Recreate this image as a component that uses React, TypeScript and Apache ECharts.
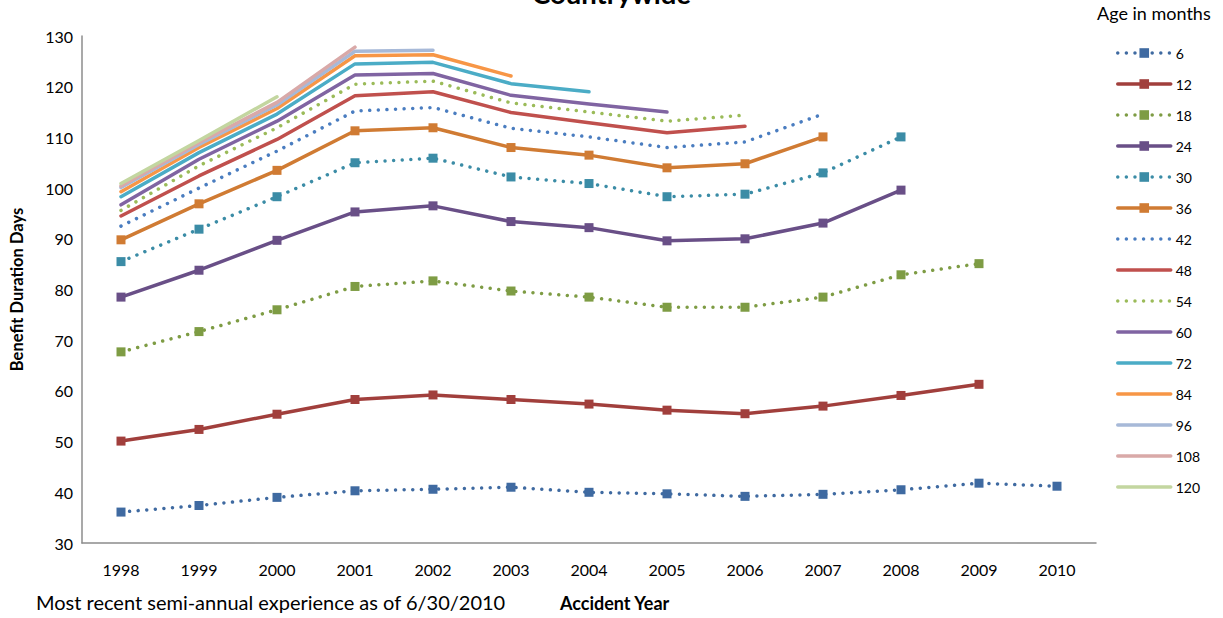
import React, { useEffect, useRef } from "react";
import * as echarts from "echarts";

// Accident years on the category axis
const years = ["1998", "1999", "2000", "2001", "2002", "2003", "2004", "2005", "2006", "2007", "2008", "2009", "2010"];

// Benefit duration days by age in months (each series ends at its latest evaluated year)
const age6 = [36.1, 37.4, 39.0, 40.3, 40.6, 41.0, 40.0, 39.7, 39.2, 39.6, 40.5, 41.8, 41.2];
const age12 = [50.1, 52.4, 55.4, 58.3, 59.2, 58.3, 57.4, 56.2, 55.5, 57.0, 59.1, 61.3];
const age18 = [67.7, 71.7, 76.0, 80.6, 81.7, 79.7, 78.5, 76.5, 76.5, 78.5, 82.9, 85.1];
const age24 = [78.5, 83.8, 89.7, 95.3, 96.5, 93.4, 92.2, 89.6, 90.0, 93.1, 99.6];
const age30 = [85.5, 91.9, 98.3, 105.0, 105.9, 102.2, 100.9, 98.3, 98.8, 103.0, 110.1];
const age36 = [89.8, 96.9, 103.5, 111.3, 111.9, 108.0, 106.5, 104.0, 104.8, 110.1];
const age42 = [92.5, 100.0, 107.3, 115.2, 115.9, 111.8, 110.1, 108.0, 109.1, 114.6];
const age48 = [94.5, 102.4, 109.6, 118.2, 119.0, 114.9, 112.9, 110.9, 112.2];
const age54 = [95.6, 104.4, 111.9, 120.5, 121.1, 116.8, 115.0, 113.2, 114.4];
const age60 = [96.7, 105.7, 113.2, 122.3, 122.6, 118.3, 116.6, 115.0];
const age72 = [98.3, 107.0, 114.6, 124.5, 124.8, 120.6, 119.0];
const age84 = [99.3, 108.0, 115.7, 126.1, 126.3, 122.1];
const age96 = [100.1, 108.6, 116.4, 127.0, 127.2];
const age108 = [100.4, 109.0, 116.9, 127.8];
const age120 = [100.9, 109.4, 118.0];

// Y axis range
const yMin = 30;
const yMax = 130;
const yStep = 10;

type SeriesDef = { name: string; data: number[]; color: string; dotted: boolean; marker: boolean };

const seriesDefs: SeriesDef[] = [
  { name: "6", data: age6, color: "#3F6AA1", dotted: true, marker: true },
  { name: "12", data: age12, color: "#A13F3C", dotted: false, marker: true },
  { name: "18", data: age18, color: "#7E9C44", dotted: true, marker: true },
  { name: "24", data: age24, color: "#694F87", dotted: false, marker: true },
  { name: "30", data: age30, color: "#3B8CA6", dotted: true, marker: true },
  { name: "36", data: age36, color: "#D07B33", dotted: false, marker: true },
  { name: "42", data: age42, color: "#4A7DC0", dotted: true, marker: false },
  { name: "48", data: age48, color: "#C0504D", dotted: false, marker: false },
  { name: "54", data: age54, color: "#9BBB59", dotted: true, marker: false },
  { name: "60", data: age60, color: "#8064A2", dotted: false, marker: false },
  { name: "72", data: age72, color: "#4BACC6", dotted: false, marker: false },
  { name: "84", data: age84, color: "#F79646", dotted: false, marker: false },
  { name: "96", data: age96, color: "#A7B9D8", dotted: false, marker: false },
  { name: "108", data: age108, color: "#D9A9A8", dotted: false, marker: false },
  { name: "120", data: age120, color: "#C3D6A0", dotted: false, marker: false },
];

const FONT = "Lato, 'Noto Sans', sans-serif";
const LINE_WIDTH = 3.5;

export default function App() {
  const ref = useRef<HTMLDivElement>(null);

  useEffect(() => {
    if (!ref.current) return;
    const chart = echarts.init(ref.current, null, { renderer: "svg" });

    const series = seriesDefs.map((s) => ({
      name: s.name,
      type: "line",
      data: s.data,
      color: s.color,
      symbol: s.marker ? "rect" : "none",
      symbolSize: 9,
      showSymbol: s.marker,
      itemStyle: { color: s.color },
      lineStyle: {
        color: s.color,
        width: LINE_WIDTH,
        type: s.dotted ? [0.01, 8.6] : "solid",
        cap: "round",
        join: "round",
      },
      emphasis: { disabled: true },
      z: 2,
    }));

    // Legend entries: series without point markers show only their line
    const legendData = seriesDefs.map((s) =>
      s.marker ? { name: s.name } : { name: s.name, itemStyle: { opacity: 0 } }
    );

    chart.setOption({
      animation: false,
      textStyle: { fontFamily: FONT },
      grid: { left: 82, top: 36, width: 1014, height: 507, containLabel: false },
      xAxis: {
        type: "category",
        data: years,
        boundaryGap: true,
        axisLine: { lineStyle: { color: "#8C8C8C", width: 1.5 } },
        axisTick: { show: false },
        axisLabel: { color: "#000", fontSize: 16, margin: 18, fontFamily: FONT },
        splitLine: { show: false },
      },
      yAxis: {
        type: "value",
        min: yMin,
        max: yMax,
        interval: yStep,
        name: "Benefit Duration Days",
        nameLocation: "middle",
        nameGap: 57,
        nameRotate: 90,
        nameTextStyle: { color: "#000", fontSize: 16.5, fontWeight: "bold", fontFamily: FONT },
        axisLine: { show: true, lineStyle: { color: "#8C8C8C", width: 1.5 } },
        axisTick: { show: false },
        axisLabel: { color: "#000", fontSize: 16, margin: 9, fontFamily: FONT },
        splitLine: { show: false },
      },
      legend: {
        orient: "vertical",
        left: 1111,
        top: 41,
        itemWidth: 53,
        itemHeight: 12,
        itemGap: 17,
        lineStyle: { width: LINE_WIDTH, cap: "round" },
        textStyle: { color: "#000", fontSize: 14, fontFamily: FONT },
        data: legendData,
      },
      graphic: [
        {
          type: "text",
          left: "center",
          top: -21,
          style: { text: "Countrywide", fill: "#000", font: `bold 27.5px ${FONT}` },
        },
        {
          type: "text",
          left: 1097,
          top: 4,
          style: { text: "Age in months", fill: "#000", font: `18px ${FONT}` },
        },
        {
          type: "text",
          left: 36,
          top: 592,
          style: { text: "Most recent semi-annual experience as of 6/30/2010", fill: "#000", font: `20px ${FONT}` },
        },
        {
          type: "text",
          left: 560,
          top: 594,
          style: { text: "Accident Year", fill: "#000", font: `bold 18px ${FONT}` },
        },
      ],
      series,
    });

    return () => chart.dispose();
  }, []);

  return (
    <div
      ref={ref}
      style={{ position: "fixed", left: 0, top: 0, width: 1223, height: 618, background: "#fff" }}
    />
  );
}
